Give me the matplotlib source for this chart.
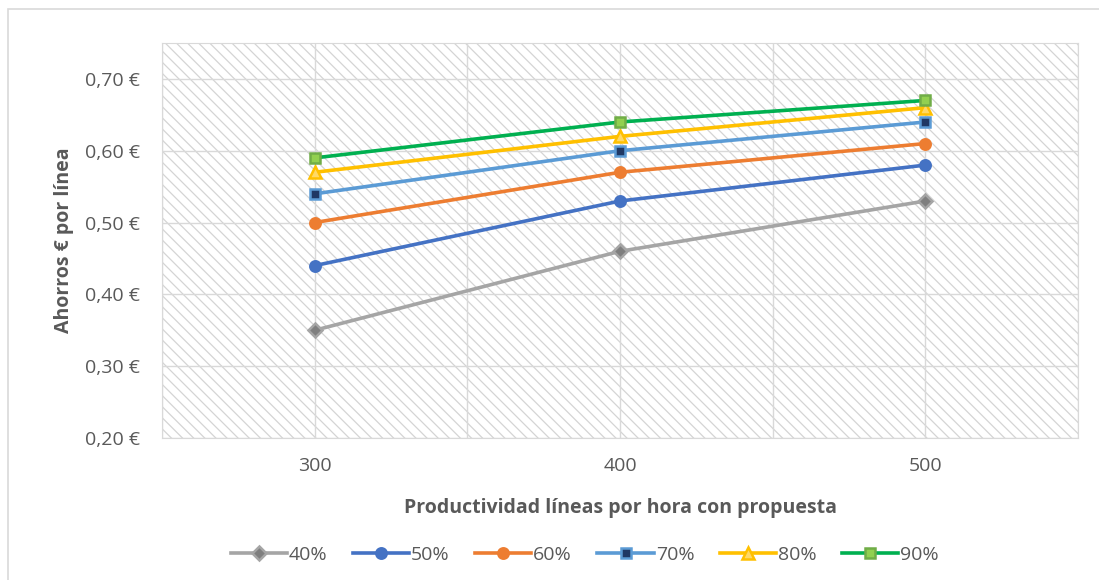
import matplotlib.pyplot as plt
from matplotlib.patches import Rectangle

# data
categories = ["300", "400", "500"]
labels = ["40%", "50%", "60%", "70%", "80%", "90%"]
s40 = [0.35, 0.46, 0.53]
s50 = [0.44, 0.53, 0.58]
s60 = [0.50, 0.57, 0.61]
s70 = [0.54, 0.60, 0.64]
s80 = [0.57, 0.62, 0.66]
s90 = [0.59, 0.64, 0.67]
yticks = [0.20, 0.30, 0.40, 0.50, 0.60, 0.70]

plt.rcParams['font.family'] = ['Open Sans', 'DejaVu Sans']
plt.rcParams['hatch.linewidth'] = 0.9
txt = '#595959'
grid = '#d9d9d9'
fs = 14

fig = plt.figure(figsize=(10.99, 5.80), dpi=100)
ax = fig.add_axes([162 / 1099, 1 - 438 / 580, 916 / 1099, 395 / 580])

# outer chart border (top and left visible)
fig.patches.append(Rectangle((8 / 1099, -0.1), 1.2, 1 - 9 / 580 + 0.1,
                             transform=fig.transFigure, fill=False,
                             edgecolor='#d9d9d9', linewidth=1.2))

# hatched plot area
ax.patch.set_visible(False)
ax.add_patch(Rectangle((0, 0), 1, 1, transform=ax.transAxes, facecolor='white',
                       edgecolor='#d4d4d4', hatch='\\\\\\', linewidth=0, zorder=0))

x = range(len(categories))
styles = [
    (s40, '#a5a5a5', 'D', '#7f7f7f', '#a5a5a5', 7.5),
    (s50, '#4472c4', 'o', '#4472c4', '#4472c4', 7.5),
    (s60, '#ed7d31', 'o', '#ed7d31', '#ed7d31', 7.5),
    (s70, '#5b9bd5', 's', '#1f3864', '#5b9bd5', 7),
    (s80, '#ffc000', '^', '#ffd966', '#ffc000', 8),
    (s90, '#00b050', 's', '#92d050', '#70ad47', 7),
]
for (vals, col, mk, fc, ec, ms), lab in zip(styles, labels):
    ax.plot(x, vals, color=col, lw=2.6, marker=mk, markersize=ms,
            markerfacecolor=fc, markeredgecolor=ec, markeredgewidth=1.8,
            label=lab, zorder=3)

ax.set_xlim(-0.5, 2.5)
ax.set_ylim(0.20, 0.75)
ax.set_xticks(list(x))
ax.set_xticklabels(categories)
ax.set_xticks([-0.5, 0.5, 1.5, 2.5], minor=True)
ax.set_yticks(yticks)
ax.set_yticklabels([f"{v:.2f} €".replace('.', ',') for v in yticks])
ax.grid(True, which='both', color=grid, lw=1, zorder=1)
ax.set_axisbelow(True)
ax.tick_params(which='both', length=0, labelsize=fs, colors=txt, pad=16)
ax.tick_params(axis='x', pad=14)
for sp in ax.spines.values():
    sp.set_color(grid)

ax.set_xlabel("Productividad líneas por hora con propuesta", fontsize=fs,
              fontweight='bold', color=txt, labelpad=16)
ax.set_ylabel("Ahorros € por línea", fontsize=fs, fontweight='bold',
              color=txt, labelpad=8)

leg = fig.legend(loc='center', bbox_to_anchor=(0.532, 1 - 555 / 580), ncol=6,
                 frameon=False, fontsize=fs, handlelength=2.9,
                 columnspacing=1.3, handletextpad=0.1)
for t in leg.get_texts():
    t.set_color(txt)

fig.savefig("out.png", dpi=100)
